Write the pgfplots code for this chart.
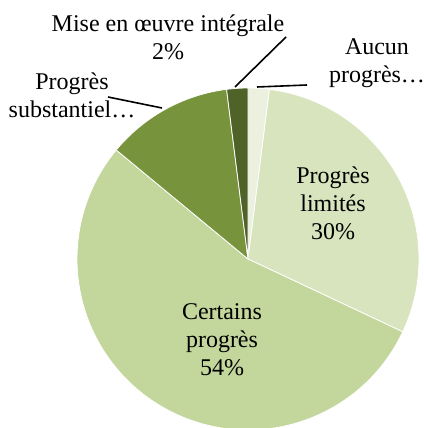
\documentclass[border=0pt]{standalone}
\usepackage{fontspec}
\setmainfont{Liberation Serif}
\usepackage{pgfplots}
\usepackage{pgfplotstable}
\pgfplotsset{compat=1.18}

\definecolor{pie0}{HTML}{EBF1DE}
\definecolor{pie1}{HTML}{D7E4BD}
\definecolor{pie2}{HTML}{C3D69B}
\definecolor{pie3}{HTML}{77933C}
\definecolor{pie4}{HTML}{4F6228}

% shares, clockwise from 12 o'clock
\pgfplotstableread{
value
2
30
54
12
2
}\piedata

\begin{document}
\begin{tikzpicture}
\begin{axis}[
  x=0.5pt, y=0.5pt,
  xmin=0, xmax=426, ymin=0, ymax=428,
  hide axis, clip=true,
  anchor=south west, at={(0,0)},
]
\xdef\cum{0}
\pgfplotsinvokeforeach{0,...,4}{
  \pgfplotstablegetelem{#1}{value}\of\piedata
  \pgfmathsetmacro\a{90-3.6*\cum}
  \pgfmathsetmacro\b{\a-3.6*\pgfplotsretval}
  \pgfmathsetmacro\c{\cum+\pgfplotsretval}
  \xdef\cum{\c}
  \edef\cmd{\noexpand\fill[pie#1, draw=white, line width=0.4pt]
    (axis cs:248,169) -- ++(\a:85.5pt)
    arc[start angle=\a, end angle=\b, radius=85.5pt] -- cycle;}
  \cmd
}
\tikzset{lbl/.style={align=center, font=\fontsize{12}{14}\selectfont, inner sep=0pt}}
\node[lbl] at (axis cs:333,225) {Progrès\\limités\\30\%};
\node[lbl] at (axis cs:222,88) {Certains\\progrès\\54\%};
\node[lbl] at (axis cs:168,391) {Mise en œuvre intégrale\\2\%};
\node[lbl] at (axis cs:72,333) {Progrès\\substantiel…};
\node[lbl] at (axis cs:377,365) {Aucun\\progrès…};
\draw[black, line width=0.8pt] (axis cs:286,391) -- (axis cs:235,341);
\draw[black, line width=0.8pt] (axis cs:108,331) -- (axis cs:162,320);
\draw[black, line width=0.8pt] (axis cs:307,343) -- (axis cs:257,341);
\end{axis}
\pgfresetboundingbox
\useasboundingbox (0,0) rectangle (213pt,214pt);
\end{tikzpicture}
\end{document}
